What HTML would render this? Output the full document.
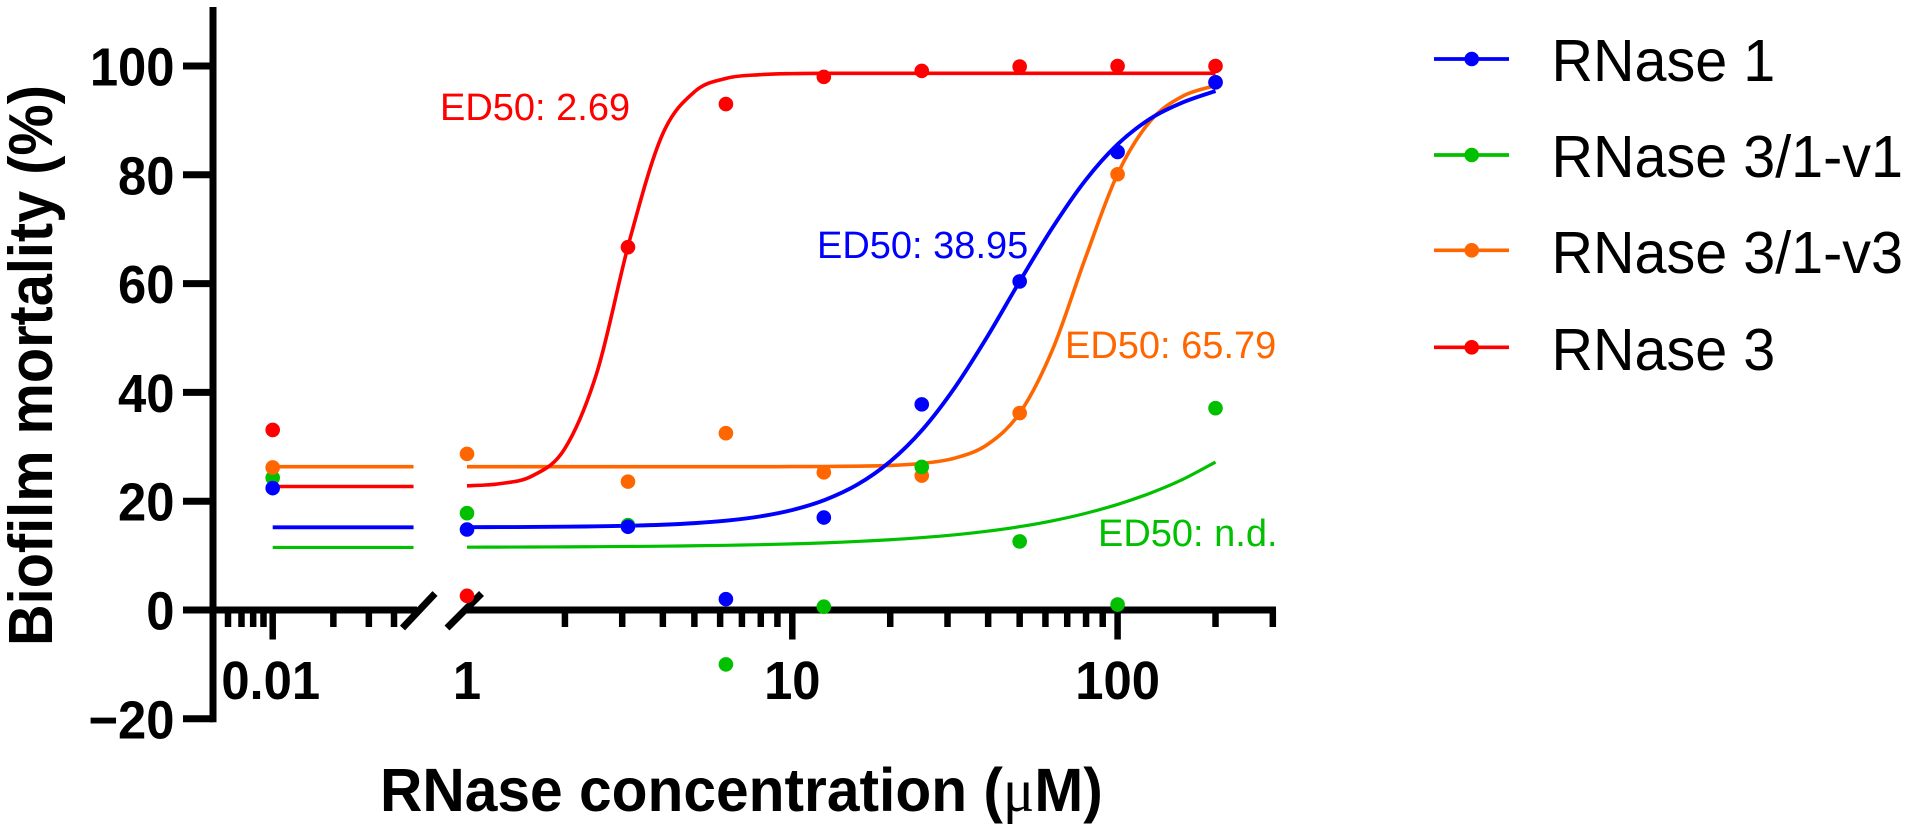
<!DOCTYPE html>
<html lang="en">
<head>
<meta charset="utf-8">
<title>Biofilm mortality vs RNase concentration</title>
<style>
  html, body { margin: 0; padding: 0; background: #fff; }
  svg { display: block; }
  text { font-family: "Liberation Sans", Arial, sans-serif; }
  .tick-label { font-size: 54px; font-weight: bold; fill: #000; }
  .axis-title { font-size: 58.7px; font-weight: bold; fill: #000; }
  .ed50 { font-size: 38px; }
  .legend-text { font-size: 57.5px; fill: #000; }
</style>
</head>
<body>
<svg id="chart" xmlns="http://www.w3.org/2000/svg" width="1909" height="831" viewBox="0 0 1909 831">
  <rect x="0" y="0" width="1909" height="831" fill="#fff"/>
  <g id="axes"></g>
  <g id="curves"></g>
  <g id="points"></g>

  <text class="axis-title" style="font-size:58px" transform="translate(52 646) rotate(-90) scale(0.995 1.07)">Biofilm mortality (%)</text>
  <text class="axis-title" transform="translate(380 811) scale(1 1.04)">RNase concentration (<tspan style="font-family:'Liberation Serif',serif;font-weight:normal">μ</tspan>M)</text>

  <text class="ed50" x="440" y="120" fill="#ff0000">ED50: 2.69</text>
  <text class="ed50" x="817" y="258" fill="#0000ff">ED50: 38.95</text>
  <text class="ed50" x="1065" y="358" fill="#ff6600">ED50: 65.79</text>
  <text class="ed50" x="1098" y="546" fill="#00c000">ED50: n.d.</text>

  <g>
    <g>
      <line x1="1434" x2="1509" y1="59" y2="59" stroke="#0000ff" stroke-width="3.7"/>
      <circle cx="1471.7" cy="59" r="7.3" fill="#0000ff"/>
      <text class="legend-text" transform="translate(1551.5 81) scale(1 1.04)">RNase 1</text>
    </g>
    <g>
      <line x1="1434" x2="1509" y1="155" y2="155" stroke="#00c000" stroke-width="3.7"/>
      <circle cx="1471.7" cy="155" r="7.3" fill="#00c000"/>
      <text class="legend-text" transform="translate(1551.5 177) scale(1 1.04)">RNase 3/1-v1</text>
    </g>
    <g>
      <line x1="1434" x2="1509" y1="250.3" y2="250.3" stroke="#ff6600" stroke-width="3.7"/>
      <circle cx="1471.7" cy="250.3" r="7.3" fill="#ff6600"/>
      <text class="legend-text" transform="translate(1551.5 273) scale(1 1.04)">RNase 3/1-v3</text>
    </g>
    <g>
      <line x1="1434" x2="1509" y1="347.3" y2="347.3" stroke="#ff0000" stroke-width="3.7"/>
      <circle cx="1471.7" cy="347.3" r="7.3" fill="#ff0000"/>
      <text class="legend-text" transform="translate(1551.5 370) scale(1 1.04)">RNase 3</text>
    </g>
  </g>
</svg>

<script>
// ---- chart data ----
const concentrations = [0.01, 1, 3.125, 6.25, 12.5, 25, 50, 100, 200];
const rnase1Points = [22.4, 14.8, 15.3, 2.0, 17.0, 37.8, 60.4, 84.2, 97.0];
const rnase31v1Points = [24.3, 17.8, 15.6, -10.0, 0.6, 26.3, 12.6, 1.0, 37.1];
const rnase31v3Points = [26.2, 28.7, 23.6, 32.5, 25.3, 24.7, 36.2, 80.1, 97.0];
const rnase3Points = [33.1, 2.6, 66.7, 93.0, 98.0, 99.1, 99.9, 100, 100];

const curveConcentrations = [0.01, 0.05, 1, 1.259, 1.585, 1.995, 2.512, 3.162, 3.981, 5.012, 6.31, 7.943, 10, 12.59, 15.85, 19.95, 25.12, 31.62, 39.81, 50.12, 63.1, 79.43, 100, 125.9, 158.5, 200];
const rnase1Curve = [15.2, 15.2, 15.23, 15.24, 15.27, 15.31, 15.38, 15.49, 15.67, 15.97, 16.44, 17.19, 18.38, 20.23, 23.05, 27.25, 33.15, 40.93, 50.3, 60.5, 70.3, 78.9, 85.6, 90.3, 93.3, 95.4];
const rnase31v1Curve = [11.5, 11.5, 11.55, 11.56, 11.58, 11.61, 11.64, 11.68, 11.73, 11.81, 11.89, 12.01, 12.15, 12.34, 12.6, 12.91, 13.31, 13.82, 14.49, 15.33, 16.4, 17.74, 19.41, 21.47, 24.0, 27.2];
const rnase31v3Curve = [26.35, 26.35, 26.35, 26.35, 26.35, 26.35, 26.35, 26.35, 26.35, 26.35, 26.35, 26.35, 26.36, 26.38, 26.44, 26.57, 26.95, 27.93, 30.42, 36.28, 47.87, 64.55, 80.15, 89.85, 94.45, 96.4];
const rnase3Curve = [22.7, 22.7, 22.83, 23.21, 24.63, 29.6, 43.8, 68.0, 87.3, 95.3, 97.77, 98.4, 98.6, 98.66, 98.66, 98.66, 98.66, 98.66, 98.66, 98.66, 98.66, 98.66, 98.66, 98.66, 98.66, 98.66];

const yTickValues = [-20, 0, 20, 40, 60, 80, 100];
const yTickLabels = ['\u221220', '0', '20', '40', '60', '80', '100'];
const xLabelValues = [0.01, 1, 10, 100];
const xLabelTexts = ['0.01', '1', '10', '100'];
const xMajorTicks = [0.01, 10, 100];
const xMinorTicks = [0.006, 0.007, 0.008, 0.009, 0.02, 0.03, 0.04, 2, 3, 4, 5, 6, 7, 8, 9, 20, 30, 40, 50, 60, 70, 80, 90, 200, 300];

// ---- axis functions ----
const BREAK_CONC = 0.05;
function xScale(c) {
  if (c <= BREAK_CONC) return 272.7 + 201.5 * Math.log10(c / 0.01);
  return 467 + 325.3 * Math.log10(c);
}
function yScale(v) { return 610 - 5.44 * v; }

const NS = 'http://www.w3.org/2000/svg';
function make(tag, attrs, parent) {
  const el = document.createElementNS(NS, tag);
  for (const k in attrs) el.setAttribute(k, attrs[k]);
  parent.appendChild(el);
  return el;
}

// ---- axes ----
const axes = document.getElementById('axes');

const yAxisLine = make('line', { x1: 213, x2: 213, y1: 7, y2: 722.3, stroke: '#000', 'stroke-width': 7 }, axes);



yTickValues.forEach(function (v, i) {
  const tick = make('line', { x1: 183, x2: 213, y1: yScale(v), y2: yScale(v), stroke: '#000', 'stroke-width': 7 }, axes);
  
  
  const label = make('text', { transform: 'translate(174.5 ' + (yScale(v) + 19.5) + ') scale(0.94 1)', 'text-anchor': 'end', class: 'tick-label' }, axes);
  label.textContent = yTickLabels[i];
  
  
});

const xAxisLeft = make('line', { x1: 209.5, x2: 417, y1: 610, y2: 610, stroke: '#000', 'stroke-width': 7 }, axes);



const xAxisRight = make('line', { x1: 464, x2: 1276, y1: 610, y2: 610, stroke: '#000', 'stroke-width': 7 }, axes);



const breakLeft = make('line', { x1: 402.5, y1: 628, x2: 435, y2: 593.5, stroke: '#000', 'stroke-width': 7 }, axes);



const breakRight = make('line', { x1: 447, y1: 628, x2: 481.5, y2: 593.5, stroke: '#000', 'stroke-width': 7 }, axes);



xMajorTicks.forEach(function (c) {
  const tick = make('line', { x1: xScale(c), x2: xScale(c), y1: 610, y2: 639.5, stroke: '#000', 'stroke-width': 6.5 }, axes);
  
  
});
xMinorTicks.forEach(function (c) {
  const tick = make('line', { x1: xScale(c), x2: xScale(c), y1: 610, y2: 627, stroke: '#000', 'stroke-width': 6.5 }, axes);
  
  
});
xLabelValues.forEach(function (c, i) {
  const lx = xScale(c) - (c === 0.01 ? 2 : 0);
  const label = make('text', { transform: 'translate(' + lx + ' 699) scale(0.94 1)', 'text-anchor': 'middle', class: 'tick-label' }, axes);
  label.textContent = xLabelTexts[i];
  
  
});

// ---- series ----
const seriesList = [
  { key: 'rnase-3-1-v3', color: '#ff6600', points: rnase31v3Points, curve: rnase31v3Curve, width: 3.6 },
  { key: 'rnase-3-1-v1', color: '#00c000', points: rnase31v1Points, curve: rnase31v1Curve, width: 3.2 },
  { key: 'rnase-1', color: '#0000ff', points: rnase1Points, curve: rnase1Curve, width: 3.9 },
  { key: 'rnase-3', color: '#ff0000', points: rnase3Points, curve: rnase3Curve, width: 3.6 }
];

function smoothPath(pts) {
  let d = 'M' + pts[0][0].toFixed(2) + ' ' + pts[0][1].toFixed(2);
  for (let i = 0; i < pts.length - 1; i++) {
    const p0 = pts[Math.max(i - 1, 0)];
    const p1 = pts[i];
    const p2 = pts[i + 1];
    const p3 = pts[Math.min(i + 2, pts.length - 1)];
    const c1x = p1[0] + (p2[0] - p0[0]) / 6;
    const c1y = p1[1] + (p2[1] - p0[1]) / 6;
    const c2x = p2[0] - (p3[0] - p1[0]) / 6;
    const c2y = p2[1] - (p3[1] - p1[1]) / 6;
    d += 'C' + c1x.toFixed(2) + ' ' + c1y.toFixed(2) + ' ' + c2x.toFixed(2) + ' ' + c2y.toFixed(2) + ' ' + p2[0].toFixed(2) + ' ' + p2[1].toFixed(2);
  }
  return d;
}

const curvesLayer = document.getElementById('curves');
seriesList.forEach(function (s) {
  const left = [];
  const right = [];
  curveConcentrations.forEach(function (c, i) {
    (c <= BREAK_CONC ? left : right).push([xScale(c), yScale(s.curve[i])]);
  });
  const leftPath = make('path', { d: smoothPath(left), fill: 'none', stroke: s.color, 'stroke-width': s.width }, curvesLayer);
  
  
  const rightPath = make('path', { d: smoothPath(right), fill: 'none', stroke: s.color, 'stroke-width': s.width }, curvesLayer);
  
  
});

const pointsLayer = document.getElementById('points');
function drawPoint(s, i) {
  const dot = make('circle', { cx: xScale(concentrations[i]), cy: yScale(s.points[i]), r: 7.3, fill: s.color }, pointsLayer);
  
  
}
// the 0.01 column stacks green under orange; every other column stacks orange under green
[1, 0, 2, 3].forEach(function (n) { drawPoint(seriesList[n], 0); });
seriesList.forEach(function (s) {
  for (let i = 1; i < concentrations.length; i++) drawPoint(s, i);
});
</script>
</body>
</html>
